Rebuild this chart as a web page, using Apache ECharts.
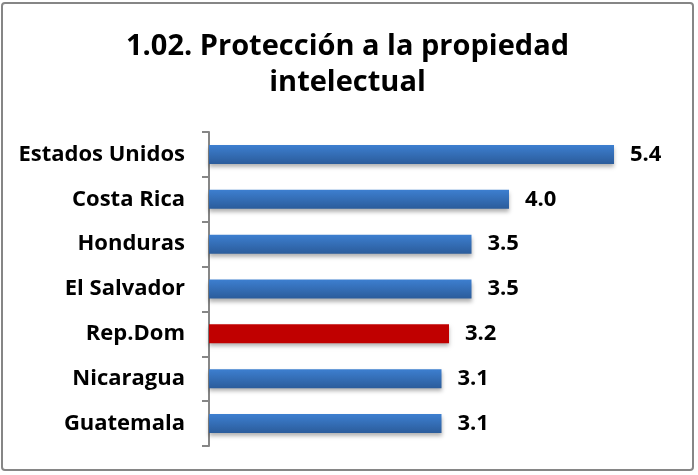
<!DOCTYPE html>
<html lang="es">
  <head>
    <meta charset="UTF-8" />
    <title>Protección a la propiedad intelectual</title>
    <style>
      html,
      body {
        margin: 0;
        padding: 0;
        background: #fff;
      }
      #chart {
        position: absolute;
        left: 1px;
        top: 2px;
        width: 693px;
        height: 469px;
        border: 2px solid #868686;
        border-radius: 4px;
        box-sizing: border-box;
      }
    </style>
  </head>
  <body>
    <div id="chart"></div>
    <script src="https://cdn.jsdelivr.net/npm/echarts@6/dist/echarts.min.js"></script>
    <script>
      const countries = [
        "Estados Unidos",
        "Costa Rica",
        "Honduras",
        "El Salvador",
        "Rep.Dom",
        "Nicaragua",
        "Guatemala",
      ];
      const scores = [5.4, 4.0, 3.5, 3.5, 3.2, 3.1, 3.1];
      const highlight = "Rep.Dom";

      const blue = new echarts.graphic.LinearGradient(0, 0, 0, 1, [
        { offset: 0, color: "#3d7fd0" },
        { offset: 1, color: "#2b5c9b" },
      ]);
      const red = "#c00000";

      const myChart = echarts.init(document.getElementById("chart"));
      const font = "'Open Sans', sans-serif";

      const option = {
        animation: false,
        title: {
          text: "1.02. Protección a la propiedad\nintelectual",
          left: "center",
          top: 20,
          textStyle: {
            fontFamily: font,
            fontSize: 29,
            fontWeight: "bold",
            color: "#000",
            lineHeight: 36,
          },
        },
        grid: {
          left: 206,
          right: 33,
          top: 128,
          bottom: 23,
        },
        xAxis: {
          type: "value",
          min: 0,
          max: 6,
          show: false,
        },
        yAxis: {
          type: "category",
          data: countries,
          inverse: true,
          axisLine: { lineStyle: { color: "#868686", width: 2 } },
          axisTick: {
            show: true,
            length: 7,
            lineStyle: { color: "#868686", width: 2 },
          },
          axisLabel: {
            fontFamily: font,
            fontSize: 22,
            fontWeight: "bold",
            color: "#000",
            margin: 24,
          },
        },
        series: [
          {
            type: "bar",
            barWidth: 19,
            data: scores.map((v, i) => ({
              value: v,
              itemStyle: {
                color: countries[i] === highlight ? red : blue,
                shadowColor: "rgba(0,0,0,0.3)",
                shadowBlur: 4,
                shadowOffsetY: 3,
              },
            })),
            label: {
              show: true,
              position: "right",
              distance: 16,
              formatter: (p) => p.value.toFixed(1),
              fontFamily: font,
              fontSize: 22,
              fontWeight: "bold",
              color: "#000",
            },
          },
        ],
      };

      myChart.setOption(option);
    </script>
  </body>
</html>
